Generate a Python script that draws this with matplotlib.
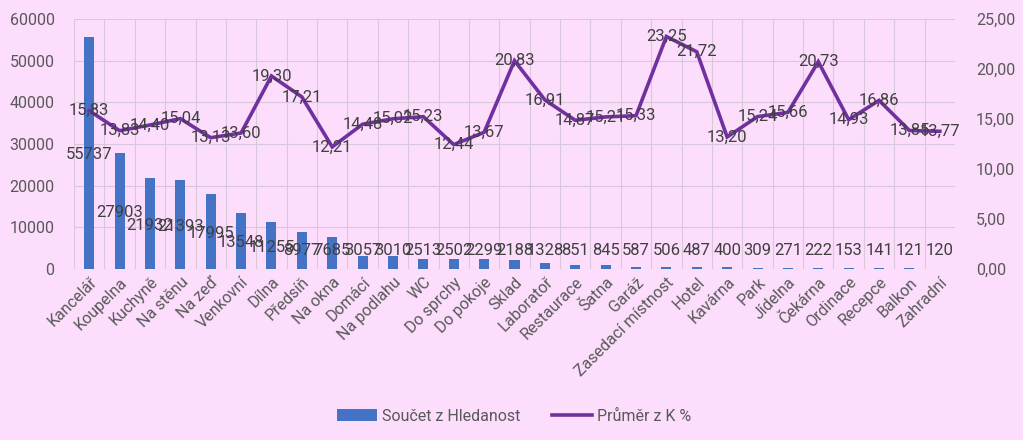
import matplotlib
matplotlib.use("Agg")
import matplotlib.pyplot as plt
import numpy as np
from matplotlib.patches import Patch
from matplotlib.lines import Line2D

categories = ["Kancelář", "Koupelna", "Kuchyně", "Na stěnu", "Na zeď", "Venkovní", "Dílna",
              "Předsíň", "Na okna", "Domácí", "Na podlahu", "WC", "Do sprchy", "Do pokoje",
              "Sklad", "Laboratoř", "Restaurace", "Šatna", "Garáž", "Zasedací místnost",
              "Hotel", "Kavárna", "Park", "Jídelna", "Čekárna", "Ordinace", "Recepce",
              "Balkon", "Zahradní"]
hledanost = [55737, 27903, 21932, 21393, 17995, 13548, 11255, 8977, 7685, 3057, 3010, 2513,
             2502, 2299, 2188, 1328, 851, 845, 587, 506, 487, 400, 309, 271, 222, 153, 141,
             121, 120]
k_pct = [15.83, 13.83, 14.40, 15.04, 13.13, 13.60, 19.30, 17.21, 12.21, 14.48, 15.02, 15.23,
         12.44, 13.67, 20.83, 16.91, 14.87, 15.21, 15.33, 23.25, 21.72, 13.20, 15.24, 15.66,
         20.73, 14.93, 16.86, 13.85, 13.77]

BG = "#FCDDFC"
BAR = "#4472C4"
LINE = "#7030A0"
TXT = "#404040"
TICK = "#595959"
GRID = "#D9C8D9"

plt.rcParams['font.family'] = ['Roboto', 'DejaVu Sans']

fig = plt.figure(figsize=(10.23, 4.40), dpi=100, facecolor=BG)
ax = fig.add_axes([74/1023, 1-269/440, (955-74)/1023, (269-19)/440])
ax.set_facecolor(BG)
x = np.arange(len(categories))

ax.bar(x, hledanost, width=0.33, color=BAR, zorder=2)
ax.set_ylim(0, 60000)
ax.set_xlim(-0.5, len(categories)-0.5)
ax.set_yticks(np.arange(0, 60001, 10000))
ax.set_yticklabels([f"{v}" for v in range(0, 60001, 10000)])
ax.set_xticks(x)
ax.set_xticklabels(categories, rotation=45, ha='right', rotation_mode='anchor')
for xi in np.arange(-0.5, len(categories), 1):
    ax.axvline(xi, color=GRID, lw=0.8, zorder=0)
ax.grid(axis='y', color=GRID, lw=0.8, zorder=0)
ax.set_axisbelow(True)
for s in ax.spines.values():
    s.set_visible(False)
ax.tick_params(axis='both', length=0, colors=TICK, labelsize=11.5)
ax.tick_params(axis='y', pad=14)
ax.tick_params(axis='x', pad=4)

for xi, v in zip(x, hledanost):
    yy = max(v/2 - 500, 4400)
    ax.text(xi, yy, f"{v}", ha='center', va='center', fontsize=12, color=TXT, zorder=5)

ax2 = ax.twinx()
ax2.set_ylim(0, 25)
ax2.plot(x, k_pct, color=LINE, lw=2.6, zorder=3, solid_joinstyle='miter')
ax2.set_yticks(np.arange(0, 26, 5))
ax2.set_yticklabels([f"{v},00" for v in range(0, 26, 5)])
for s in ax2.spines.values():
    s.set_visible(False)
ax2.tick_params(axis='y', length=0, colors=TICK, labelsize=11.5, pad=15)
for xi, v in zip(x, k_pct):
    ax2.text(xi, v, f"{v:.2f}".replace('.', ','), ha='center', va='center', fontsize=12,
             color=TXT, zorder=6)

handles = [Patch(facecolor=BAR, edgecolor='none'), Line2D([0], [0], color=LINE, lw=2.6)]
fig.legend(handles, ["Součet z Hledanost", "Průměr z K %"], loc='center',
           bbox_to_anchor=(514/1023, 1-416/440), ncol=2, frameon=False, fontsize=11.5,
           labelcolor=TICK, handlelength=2.5, handletextpad=0.3, columnspacing=2.0)

fig.savefig("out.png", dpi=100, facecolor=BG)
